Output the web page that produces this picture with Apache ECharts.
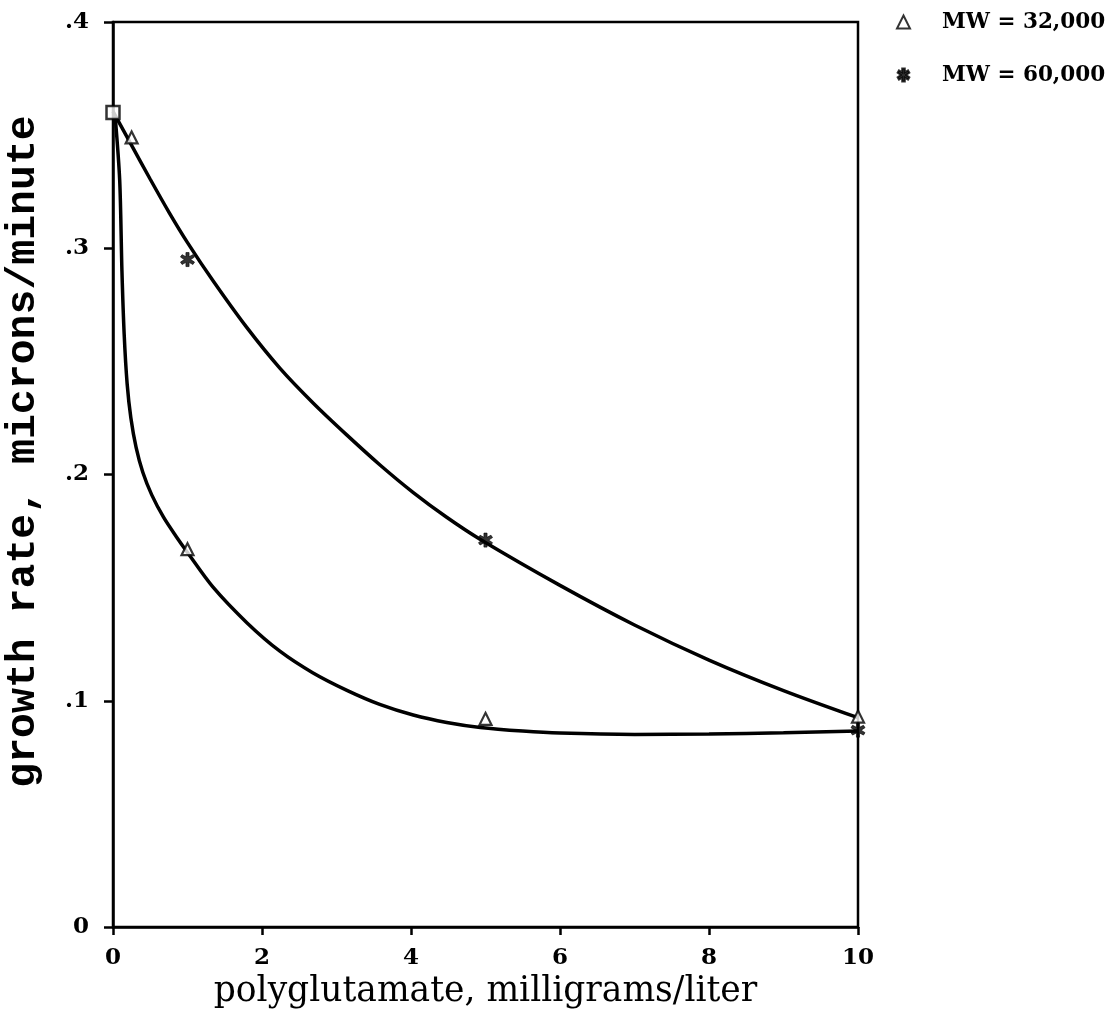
<!DOCTYPE html>
<html>
<head>
<meta charset="utf-8">
<script src="https://cdn.jsdelivr.net/npm/echarts@6/dist/echarts.min.js"></script>
<style>
  html, body { margin: 0; padding: 0; background: #fff; }
  #chart { width: 1118px; height: 1027px; }
</style>
</head>
<body>
<div id="chart"></div>
<script>
// Axis ticks
const xTicks = [0, 2, 4, 6, 8, 10];
const yTicks = [0, 0.1, 0.2, 0.3, 0.4];
const yTickLabels = ['0', '.1', '.2', '.3', '.4'];

// Legend / series names
const seriesNames = ['MW = 32,000', 'MW = 60,000'];

// Shared starting measurement (no polymer added)
const startPoint = [[0, 0.36]];

// Measured growth rates, [concentration mg/L, rate µm/min]
const mw32000 = [[0.25, 0.349], [1, 0.167], [5, 0.092], [10, 0.093]];
const mw60000 = [[1, 0.295], [5, 0.171], [10, 0.087]];

// Hand-drawn fitted curves
const curveUpper = [
  [0, 0.3605], [0.25, 0.3455], [0.5, 0.3305], [0.75, 0.316], [1.0, 0.3025],
  [1.345, 0.2855], [1.795, 0.265], [2.242, 0.2469], [2.689, 0.2315],
  [3.137, 0.2175], [3.584, 0.2042], [4.031, 0.192], [4.479, 0.1811],
  [4.926, 0.1714], [6, 0.151], [7, 0.1335], [8, 0.118], [9, 0.1045], [10, 0.0925]
];
const curveLower = [
  [0.03, 0.358], [0.09, 0.33], [0.12, 0.29], [0.15, 0.262], [0.19, 0.24],
  [0.24, 0.225], [0.31, 0.212], [0.4, 0.201], [0.52, 0.191], [0.68, 0.181],
  [0.85, 0.1725], [1.0, 0.1655], [1.34, 0.1503], [1.8, 0.1344], [2.24, 0.1219],
  [2.68, 0.1124], [3.14, 0.1046], [3.58, 0.0984], [4.03, 0.0937], [4.48, 0.0904],
  [4.93, 0.0882], [5.5, 0.0866], [6, 0.0857], [7, 0.0851], [8, 0.0853],
  [9, 0.0859], [10, 0.0866]
];

const starPath = 'path://M4,0 H6 V3 L8.5,1.5 L9.5,3.2 L7,5 L9.5,6.8 L8.5,8.5 L6,7 V10 H4 V7 L1.5,8.5 L0.5,6.8 L3,5 L0.5,3.2 L1.5,1.5 L4,3 Z';

const tickFont = { fontFamily: 'DejaVu Serif', fontWeight: 'bold', fontSize: 23, color: '#000' };

const chart = echarts.init(document.getElementById('chart'), null, { renderer: 'canvas' });

const lineStyle = { color: '#000', width: 3.5 };

chart.setOption({
  animation: false,
  backgroundColor: '#fff',
  grid: {
    left: 113, right: 260, top: 22, bottom: 100,
    outerBoundsMode: 'none',
    containLabel: false,
    show: true, borderColor: '#000', borderWidth: 2.5, backgroundColor: 'transparent'
  },
  legend: {
    data: seriesNames,
    orient: 'vertical',
    left: 891,
    top: 6,
    itemWidth: 13,
    itemHeight: 13,
    itemGap: 31,
    textStyle: {
      fontFamily: 'DejaVu Serif', fontWeight: 'bold', fontSize: 21.5, color: '#000',
      padding: [0, 0, 0, 27]
    }
  },
  xAxis: {
    type: 'value',
    min: xTicks[0], max: xTicks[xTicks.length - 1], interval: 2,
    name: 'polyglutamate, milligrams/liter',
    nameLocation: 'middle',
    nameGap: 26,
    nameTextStyle: { fontFamily: 'DejaVu Serif', fontSize: 34.5, color: '#000', verticalAlign: 'top' },
    axisLine: { show: true, onZero: false, lineStyle: { color: '#000', width: 2.5 } },
    axisTick: { show: true, inside: false, length: 8, lineStyle: { color: '#000', width: 2.5 } },
    axisLabel: Object.assign({ margin: 20 }, tickFont),
    splitLine: { show: false }
  },
  yAxis: {
    type: 'value',
    min: yTicks[0], max: yTicks[yTicks.length - 1], interval: 0.1,
    name: 'growth rate, microns/minute',
    nameLocation: 'middle',
    nameGap: 68,
    nameTextStyle: {
      fontFamily: 'Liberation Mono', fontWeight: 'bold', fontSize: 41.5, color: '#000',
      padding: [0, 0, 0, 46]
    },
    axisLine: { show: true, onZero: false, lineStyle: { color: '#000', width: 2.5 } },
    axisTick: { show: true, inside: false, length: 9, lineStyle: { color: '#000', width: 2.5 } },
    axisLabel: Object.assign({
      margin: 24,
      formatter: function (v) {
        const i = yTicks.findIndex(t => Math.abs(t - v) < 1e-9);
        return i >= 0 ? yTickLabels[i] : '';
      }
    }, tickFont),
    splitLine: { show: false }
  },
  series: [
    {
      name: 'fit-60000', type: 'line', data: curveUpper,
      smooth: 0.3, showSymbol: false, symbol: 'none',
      lineStyle: lineStyle, z: 2, silent: true
    },
    {
      name: 'fit-32000', type: 'line', data: curveLower,
      smooth: 0.3, showSymbol: false, symbol: 'none',
      lineStyle: lineStyle, z: 2, silent: true
    },
    {
      name: seriesNames[0], type: 'scatter', data: mw32000,
      symbol: 'triangle', symbolSize: 12, clip: false, z: 5,
      itemStyle: { color: '#fff', borderColor: '#000', borderWidth: 2.2 }
    },
    {
      name: seriesNames[1], type: 'scatter', data: mw60000,
      symbol: starPath, symbolSize: 14, clip: false, z: 5,
      itemStyle: { color: '#000', borderColor: '#000', borderWidth: 0.8 }
    },
    {
      name: 'start', type: 'scatter', data: startPoint,
      symbol: 'rect', symbolSize: 13, clip: false, z: 6,
      itemStyle: { color: '#fff', borderColor: '#000', borderWidth: 2.5 }
    }
  ]
});
</script>
</body>
</html>
